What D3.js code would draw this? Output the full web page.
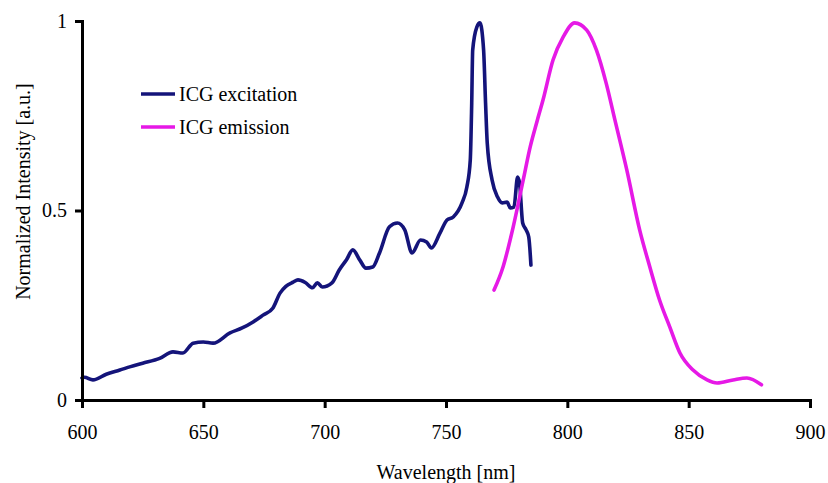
<!DOCTYPE html>
<html>
<head>
<meta charset="utf-8">
<script src="https://cdn.jsdelivr.net/npm/d3@7"></script>
<style>
  body { margin: 0; background: #fff; }
  svg text { font-family: "Liberation Serif", "Times New Roman", "DejaVu Serif", serif; fill: #000; }
</style>
</head>
<body>
<div id="chart"></div>
<script>
// ICG excitation spectrum (wavelength nm, normalized intensity)
const excWave = [600, 601, 604.5, 610, 615.6, 620, 625, 632, 637.5, 641.6, 645.8, 650, 654, 661, 666, 670.5, 674.6, 678.7, 681.6, 684, 687, 689, 692, 695, 697, 699, 703, 706, 709, 711.6, 714.5, 717, 719.8, 722.6, 726.7, 730, 733, 736, 739.5, 742, 744, 747.5, 750.4, 753, 756.6, 758.6, 760, 760.6, 761, 762.7, 764, 765.5, 766.3, 767, 769, 771.2, 773.2, 775.2, 776.5, 778, 779.5, 780.3, 781.6, 783, 784.1, 785];
const excValue = [0.058, 0.06, 0.053, 0.068, 0.079, 0.088, 0.097, 0.11, 0.127, 0.124, 0.15, 0.153, 0.15, 0.177, 0.19, 0.206, 0.224, 0.243, 0.282, 0.3, 0.311, 0.317, 0.31, 0.296, 0.309, 0.298, 0.309, 0.343, 0.37, 0.396, 0.369, 0.348, 0.351, 0.388, 0.457, 0.467, 0.449, 0.388, 0.422, 0.417, 0.401, 0.44, 0.475, 0.483, 0.52, 0.562, 0.633, 0.784, 0.923, 0.984, 0.995, 0.923, 0.784, 0.678, 0.58, 0.536, 0.52, 0.522, 0.507, 0.509, 0.588, 0.572, 0.467, 0.449, 0.43, 0.356];

// ICG emission spectrum
const emiWave = [769.8, 773.5, 777.7, 781.8, 784.7, 787.5, 790, 794.1, 798.3, 803, 808, 812, 816, 819.6, 824.5, 829.8, 834, 838, 842.2, 846.4, 851.8, 857.6, 861.7, 868.3, 874, 880];
const emiValue = [0.29, 0.351, 0.457, 0.58, 0.668, 0.735, 0.792, 0.897, 0.958, 0.995, 0.976, 0.923, 0.836, 0.739, 0.607, 0.449, 0.351, 0.264, 0.193, 0.124, 0.079, 0.053, 0.045, 0.053, 0.058, 0.04];

const xTicks = [600, 650, 700, 750, 800, 850, 900];
const yTicks = [0, 0.5, 1];
const yTickLabels = ["0", "0.5", "1"];

const series = [
  { name: "ICG excitation", color: "#14147a", x: excWave, y: excValue },
  { name: "ICG emission", color: "#e619e6", x: emiWave, y: emiValue }
];

const width = 828, height = 483;
const margin = { top: 21, right: 18, bottom: 83, left: 82 };
const innerWidth = width - margin.left - margin.right;
const innerHeight = height - margin.top - margin.bottom;
const serif = '"Liberation Serif", "Times New Roman", "DejaVu Serif", serif';

const svg = d3.select("#chart").append("svg")
  .attr("width", width).attr("height", height);
const g = svg.append("g").attr("transform", `translate(${margin.left},${margin.top})`);

const x = d3.scaleLinear().domain([600, 900]).range([0, innerWidth]);
const y = d3.scaleLinear().domain([0, 1]).range([innerHeight, 0]);

// lines (monotone so the sharp peak doesn't overshoot)
const line = d3.line().x(p => x(p[0])).y(p => y(p[1])).curve(d3.curveMonotoneX);
series.forEach(s => {
  g.append("path")
    .datum(s.x.map((w, i) => [w, s.y[i]]))
    .attr("d", line)
    .style("fill", "none")
    .style("stroke", s.color)
    .style("stroke-width", 3.6)
    .style("stroke-linejoin", "round")
    .style("stroke-linecap", "round");
});

// axes
const xAxis = g.append("g").attr("transform", `translate(0,${innerHeight})`)
  .call(d3.axisBottom(x).tickValues(xTicks).tickSize(8).tickPadding(17).tickFormat(d3.format("d")));
const yAxis = g.append("g")
  .call(d3.axisLeft(y).tickValues(yTicks).tickSize(7).tickPadding(8).tickFormat((d, i) => yTickLabels[i]));

[xAxis, yAxis].forEach(a => {
  a.attr("font-family", serif).attr("font-size", 20);
  a.select(".domain").style("stroke", "#000").style("stroke-width", 3);
  a.selectAll(".tick line").style("stroke", "#000").style("stroke-width", 3);
  a.selectAll(".tick text").style("font-size", "20px").style("font-family", serif);
});

// axis titles
svg.append("text")
  .attr("x", margin.left + x(750)).attr("y", 479)
  .attr("text-anchor", "middle").style("font-size", "20px")
  .text("Wavelength [nm]");
svg.append("text")
  .attr("transform", `translate(30,${margin.top + y(0.55)}) rotate(-90)`)
  .attr("text-anchor", "middle").style("font-size", "20px")
  .text("Normalized Intensity [a.u.]");

// legend
const legend = g.append("g").attr("transform", "translate(59,73)");
series.forEach((s, i) => {
  const row = legend.append("g").attr("transform", `translate(0,${i * 33})`);
  row.append("line").attr("x1", 0).attr("x2", 34).attr("y1", 0).attr("y2", 0)
    .style("stroke", s.color).style("stroke-width", 3.5);
  row.append("text").attr("x", 38).attr("y", 7).style("font-size", "20px").text(s.name);
});
</script>
</body>
</html>
